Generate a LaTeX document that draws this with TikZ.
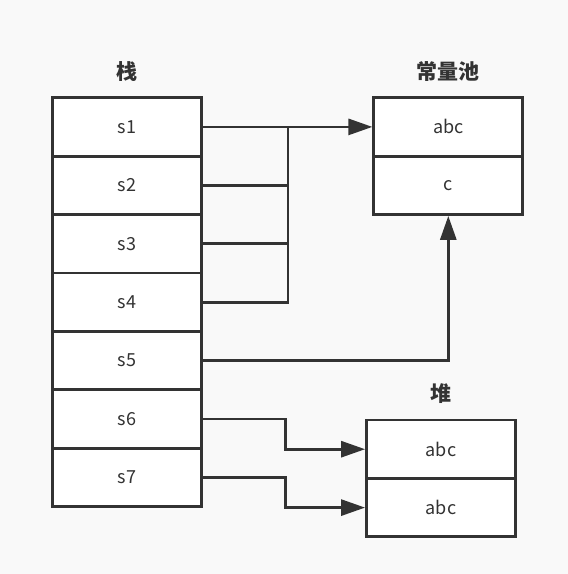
\documentclass[tikz,border=0pt]{standalone}
\usepackage{fontspec}
\setmainfont{Noto Sans CJK SC}
\usetikzlibrary{arrows.meta,calc}
\definecolor{ink}{HTML}{333333}
\definecolor{bg}{HTML}{F9F9F9}
\tikzset{
  cell/.style={draw=ink, line width=2.8pt, fill=white, minimum width=149pt, minimum height=58.4pt, inner sep=0pt, text=ink, font=\fontsize{18}{18}\selectfont},
  title/.style={text=ink, font=\fontsize{21}{21}\selectfont\bfseries, inner sep=0pt},
  conn/.style={draw=ink, line width=2.8pt},
  arr/.style={conn, -{Triangle[length=24pt,width=16pt]}}
}
\begin{document}
\begin{tikzpicture}[x=1pt,y=-1pt]
\fill[bg] (0,0) rectangle (568,574);
\useasboundingbox (0,0) rectangle (568,574);
% stack
\node[cell] (s1) at (127.2,126.9) {s1};
\node[cell] (s2) at (127.2,185.3) {s2};
\node[cell] (s3) at (127.2,243.7) {s3};
\node[cell] (s4) at (127.2,302.1) {s4};
\node[cell] (s5) at (127.2,360.5) {s5};
\node[cell] (s6) at (127.2,418.9) {s6};
\node[cell] (s7) at (127.2,477.3) {s7};
% constant pool
\node[cell] (p1) at (448.3,126.9) {abc};
\node[cell] (p2) at (448.3,185.3) {c};
% heap
\node[cell] (h1) at (441,449.2) {abc};
\node[cell] (h2) at (441,507.6) {abc};
% titles
\node[title] (t1) at (127.2,72) {栈};
\node[title] (t2) at (448.3,72) {常量池};
\node[title] (t3) at (441,394) {堆};
% connectors
\coordinate (j) at (288,126.9);
\draw[arr] (s1.east) -- (p1.west);
\draw[conn] (s2.east) -| (j);
\draw[conn] (s3.east) -| (j);
\draw[conn] (s4.east) -| (j);
\draw[arr] (s5.east) -| (p2.south);
\draw[arr] (s6.east) -- ($(s6.east)+(82,0)$) |- (h1.west);
\draw[arr] (s7.east) -- ($(s7.east)+(82,0)$) |- (h2.west);
\end{tikzpicture}
\end{document}
